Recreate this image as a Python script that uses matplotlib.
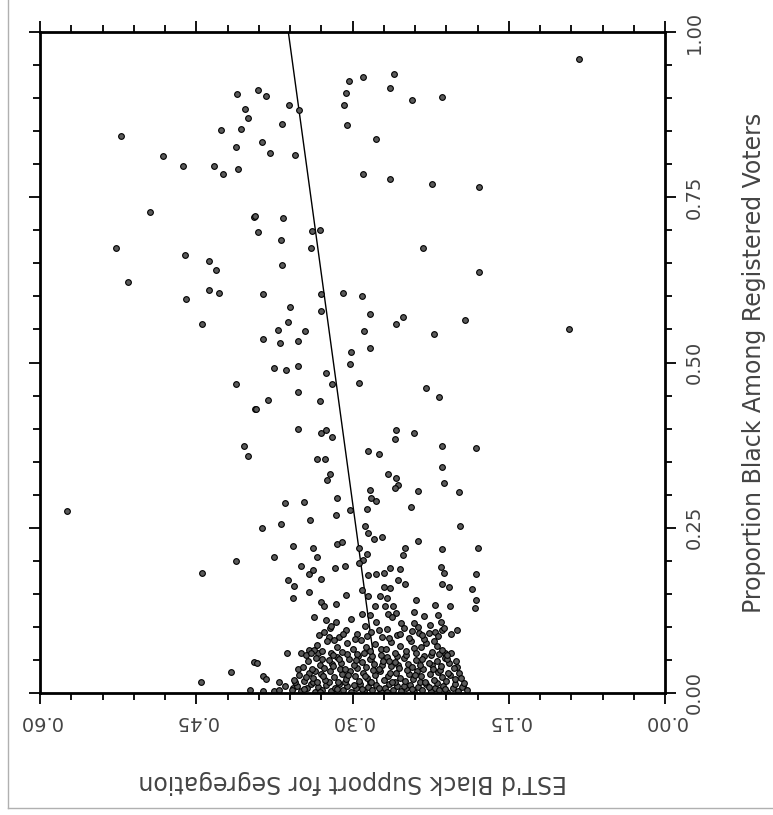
import matplotlib
matplotlib.use("Agg")
import matplotlib.pyplot as plt
from matplotlib.lines import Line2D
from matplotlib.ticker import MultipleLocator, FixedLocator
import numpy as np

# (support, proportion black) pairs, grouped by region
upper_left = [
    (0.411, 0.906), (0.403, 0.884), (0.400, 0.870), (0.426, 0.852), (0.407, 0.854),
    (0.522, 0.842), (0.412, 0.826), (0.482, 0.813), (0.463, 0.797), (0.433, 0.798),
    (0.424, 0.785), (0.410, 0.792), (0.395, 0.720), (0.494, 0.727), (0.527, 0.673),
    (0.461, 0.663), (0.438, 0.653), (0.431, 0.640), (0.516, 0.622), (0.438, 0.609),
    (0.428, 0.605), (0.460, 0.596), (0.444, 0.558), (0.412, 0.468), (0.394, 0.430),
    (0.404, 0.374), (0.400, 0.359),
]
lower_left = [
    (0.574, 0.275), (0.444, 0.182), (0.412, 0.199), (0.417, 0.032), (0.445, 0.016),
    (0.398, 0.005), (0.395, 0.047),
]
upper_mid = [
    (0.391, 0.912), (0.383, 0.903), (0.361, 0.890), (0.351, 0.882), (0.368, 0.861),
    (0.387, 0.834), (0.379, 0.817), (0.355, 0.814), (0.303, 0.926), (0.290, 0.932),
    (0.260, 0.936), (0.264, 0.915), (0.306, 0.907), (0.308, 0.889), (0.243, 0.897),
    (0.214, 0.902), (0.305, 0.860), (0.277, 0.838), (0.290, 0.785), (0.264, 0.778),
    (0.224, 0.770), (0.394, 0.721), (0.367, 0.718), (0.391, 0.698), (0.369, 0.685),
    (0.339, 0.699), (0.331, 0.700), (0.340, 0.673), (0.232, 0.673), (0.368, 0.648),
    (0.386, 0.603), (0.330, 0.603), (0.309, 0.605), (0.291, 0.600), (0.360, 0.584),
    (0.330, 0.578), (0.283, 0.573), (0.362, 0.561), (0.346, 0.548), (0.372, 0.549),
    (0.386, 0.535), (0.370, 0.530), (0.352, 0.533), (0.258, 0.559), (0.252, 0.569),
    (0.289, 0.548), (0.222, 0.543), (0.192, 0.565), (0.301, 0.516), (0.283, 0.522),
    (0.302, 0.498), (0.375, 0.491), (0.364, 0.488), (0.352, 0.494), (0.325, 0.484),
    (0.320, 0.467), (0.294, 0.469), (0.352, 0.455), (0.381, 0.444), (0.393, 0.430),
    (0.331, 0.442), (0.229, 0.461), (0.217, 0.448), (0.352, 0.399), (0.330, 0.394),
    (0.325, 0.398), (0.320, 0.388), (0.258, 0.398), (0.259, 0.385), (0.241, 0.393),
    (0.214, 0.374), (0.214, 0.342), (0.334, 0.354), (0.326, 0.354), (0.285, 0.366),
    (0.275, 0.362),
]
right_side = [
    (0.083, 0.959), (0.179, 0.766), (0.179, 0.637), (0.092, 0.550), (0.181, 0.371),
    (0.180, 0.220), (0.181, 0.180), (0.181, 0.140), (0.182, 0.128),
]
lower_mid = [
    (0.322, 0.332), (0.324, 0.322), (0.315, 0.295), (0.302, 0.277), (0.365, 0.288),
    (0.347, 0.289), (0.341, 0.262), (0.369, 0.256), (0.387, 0.250), (0.316, 0.269),
    (0.357, 0.223), (0.338, 0.219), (0.334, 0.206), (0.375, 0.206), (0.315, 0.226),
    (0.310, 0.229), (0.317, 0.189), (0.307, 0.192), (0.349, 0.192), (0.342, 0.180),
    (0.338, 0.186), (0.362, 0.171), (0.356, 0.162), (0.330, 0.172), (0.342, 0.153),
    (0.357, 0.143), (0.330, 0.138), (0.327, 0.131), (0.316, 0.135), (0.306, 0.148),
    (0.337, 0.115), (0.325, 0.111), (0.316, 0.108), (0.322, 0.098), (0.323, 0.085),
    (0.363, 0.061), (0.349, 0.061), (0.342, 0.065), (0.333, 0.061), (0.392, 0.045),
    (0.386, 0.025), (0.383, 0.021), (0.371, 0.017), (0.365, 0.010), (0.357, 0.008),
    (0.386, 0.003), (0.375, 0.003), (0.371, 0.004),
]
lower_right = [
    (0.266, 0.332), (0.258, 0.325), (0.256, 0.315), (0.259, 0.310), (0.212, 0.317),
    (0.237, 0.305), (0.198, 0.304), (0.283, 0.307), (0.282, 0.295), (0.277, 0.290),
    (0.286, 0.279), (0.244, 0.282), (0.197, 0.252), (0.288, 0.252), (0.285, 0.242),
    (0.279, 0.233), (0.272, 0.236), (0.237, 0.230), (0.214, 0.218), (0.250, 0.220),
    (0.252, 0.209), (0.286, 0.211), (0.294, 0.219), (0.290, 0.201), (0.294, 0.196),
    (0.264, 0.189), (0.254, 0.187), (0.215, 0.190), (0.212, 0.181), (0.285, 0.179),
    (0.277, 0.180), (0.270, 0.181), (0.256, 0.171), (0.250, 0.165), (0.214, 0.165),
    (0.207, 0.161), (0.270, 0.161), (0.264, 0.159), (0.291, 0.156), (0.185, 0.157),
    (0.285, 0.146), (0.274, 0.146), (0.267, 0.143), (0.239, 0.140), (0.221, 0.133),
    (0.206, 0.132), (0.278, 0.131), (0.269, 0.131), (0.261, 0.132), (0.241, 0.123),
    (0.231, 0.117), (0.218, 0.118), (0.283, 0.118), (0.266, 0.120), (0.258, 0.121),
    (0.253, 0.106), (0.237, 0.100), (0.227, 0.091), (0.221, 0.093), (0.214, 0.096),
    (0.205, 0.090), (0.200, 0.095), (0.205, 0.061), (0.194, 0.010), (0.211, 0.060),
]
# the dense mass of precincts near zero
cluster_bottom = [
    (0.358, 0.004), (0.353, 0.011), (0.349, 0.003), (0.344, 0.008), (0.340, 0.013),
    (0.336, 0.002), (0.333, 0.009), (0.329, 0.005), (0.325, 0.012), (0.321, 0.003),
    (0.317, 0.008), (0.313, 0.014), (0.309, 0.004), (0.305, 0.010), (0.301, 0.002),
    (0.297, 0.007), (0.293, 0.013), (0.289, 0.003), (0.285, 0.009), (0.281, 0.005),
    (0.277, 0.012), (0.273, 0.002), (0.269, 0.008), (0.265, 0.014), (0.261, 0.004),
    (0.257, 0.010), (0.253, 0.003), (0.249, 0.007), (0.245, 0.012), (0.241, 0.002),
    (0.237, 0.009), (0.233, 0.005), (0.229, 0.013), (0.225, 0.003), (0.221, 0.008),
    (0.217, 0.004), (0.213, 0.011), (0.209, 0.002), (0.204, 0.007), (0.199, 0.003),
    (0.195, 0.009), (0.190, 0.004),
    (0.355, 0.016), (0.347, 0.006), (0.338, 0.017), (0.331, 0.001), (0.323, 0.016),
    (0.315, 0.006), (0.307, 0.017), (0.299, 0.012), (0.291, 0.006), (0.283, 0.017),
    (0.275, 0.007), (0.267, 0.002), (0.259, 0.016), (0.251, 0.011), (0.243, 0.006),
    (0.235, 0.016), (0.227, 0.009), (0.219, 0.015), (0.211, 0.006), (0.202, 0.014),
    (0.193, 0.015),
]
cluster_low = [
    (0.356, 0.020), (0.351, 0.027), (0.347, 0.018), (0.342, 0.031), (0.338, 0.022),
    (0.334, 0.016), (0.330, 0.028), (0.326, 0.020), (0.322, 0.033), (0.318, 0.024),
    (0.314, 0.017), (0.310, 0.029), (0.306, 0.021), (0.302, 0.034), (0.298, 0.025),
    (0.294, 0.018), (0.290, 0.030), (0.286, 0.022), (0.282, 0.016), (0.278, 0.027),
    (0.274, 0.033), (0.270, 0.020), (0.266, 0.026), (0.262, 0.017), (0.258, 0.031),
    (0.254, 0.023), (0.250, 0.018), (0.246, 0.029), (0.242, 0.021), (0.238, 0.034),
    (0.234, 0.025), (0.230, 0.017), (0.226, 0.028), (0.222, 0.020), (0.218, 0.032),
    (0.214, 0.024), (0.210, 0.018), (0.206, 0.027), (0.202, 0.021), (0.198, 0.030),
    (0.352, 0.036), (0.345, 0.024), (0.336, 0.034), (0.328, 0.025), (0.320, 0.044),
    (0.312, 0.036), (0.304, 0.027), (0.296, 0.038), (0.288, 0.026), (0.280, 0.035),
    (0.272, 0.042), (0.264, 0.030), (0.256, 0.043), (0.248, 0.035), (0.240, 0.027),
    (0.232, 0.037), (0.224, 0.043), (0.216, 0.035), (0.208, 0.031), (0.200, 0.040),
    (0.196, 0.022),
]
cluster_mid = [
    (0.348, 0.040), (0.343, 0.048), (0.339, 0.037), (0.335, 0.053), (0.331, 0.043),
    (0.327, 0.038), (0.323, 0.050), (0.319, 0.041), (0.315, 0.055), (0.311, 0.046),
    (0.307, 0.037), (0.303, 0.051), (0.299, 0.042), (0.295, 0.056), (0.291, 0.047),
    (0.287, 0.039), (0.283, 0.052), (0.279, 0.044), (0.275, 0.036), (0.271, 0.049),
    (0.267, 0.055), (0.263, 0.041), (0.259, 0.047), (0.255, 0.038), (0.251, 0.053),
    (0.247, 0.044), (0.243, 0.039), (0.239, 0.050), (0.235, 0.042), (0.231, 0.056),
    (0.227, 0.046), (0.223, 0.037), (0.219, 0.049), (0.215, 0.041), (0.211, 0.053),
    (0.207, 0.045), (0.203, 0.038),
    (0.345, 0.057), (0.337, 0.065), (0.329, 0.052), (0.321, 0.061), (0.313, 0.051),
    (0.305, 0.059), (0.297, 0.050), (0.289, 0.061), (0.281, 0.056), (0.273, 0.066),
    (0.265, 0.049), (0.257, 0.056), (0.249, 0.058), (0.241, 0.068), (0.233, 0.052),
    (0.225, 0.057), (0.217, 0.059), (0.209, 0.051), (0.201, 0.048),
]
cluster_top = [
    (0.340, 0.060), (0.334, 0.072), (0.329, 0.064), (0.324, 0.078), (0.319, 0.058),
    (0.315, 0.069), (0.310, 0.062), (0.305, 0.075), (0.300, 0.066), (0.296, 0.059),
    (0.292, 0.080), (0.287, 0.070), (0.283, 0.063), (0.278, 0.074), (0.273, 0.058),
    (0.268, 0.067), (0.263, 0.077), (0.259, 0.061), (0.254, 0.071), (0.249, 0.064),
    (0.244, 0.079), (0.239, 0.060), (0.234, 0.069), (0.229, 0.075), (0.224, 0.062),
    (0.219, 0.071), (0.214, 0.065), (0.209, 0.058),
    (0.332, 0.088), (0.321, 0.102), (0.313, 0.085), (0.306, 0.096), (0.301, 0.112),
    (0.296, 0.089), (0.291, 0.120), (0.288, 0.101), (0.282, 0.092), (0.277, 0.108),
    (0.272, 0.084), (0.267, 0.097), (0.262, 0.115), (0.257, 0.088), (0.251, 0.099),
    (0.246, 0.083), (0.241, 0.106), (0.236, 0.091), (0.231, 0.081), (0.226, 0.103),
    (0.218, 0.086), (0.212, 0.098),
    (0.327, 0.093), (0.318, 0.080), (0.309, 0.089), (0.298, 0.081), (0.286, 0.086),
    (0.275, 0.096), (0.265, 0.083), (0.254, 0.090), (0.243, 0.094), (0.233, 0.087),
    (0.222, 0.079), (0.215, 0.107),
]

# fitted line endpoints
fit_black = [0.0, 1.0]
fit_support = [0.275, 0.3616]

x_ticks = [0.00, 0.15, 0.30, 0.45, 0.60]
x_tick_labels = ["0.00", "0.15", "0.30", "0.45", "0.60"]
y_ticks = [0.00, 0.25, 0.50, 0.75, 1.00]
y_tick_labels = ["0.00", "0.25", "0.50", "0.75", "1.00"]

groups = [upper_left, lower_left, upper_mid, right_side, lower_mid, lower_right,
          cluster_bottom, cluster_low, cluster_mid, cluster_top]
pts = np.array([p for g in groups for p in g])

fig = plt.figure(figsize=(7.73, 8.15), dpi=100)
ax = fig.add_axes([40 / 773, 1 - 693 / 815, 625 / 773, 661 / 815])

ax.plot(fit_support, fit_black, color="black", lw=1.0, zorder=1)
ax.scatter(pts[:, 0], pts[:, 1], s=17, facecolors="#5a5a5a", edgecolors="black",
           linewidths=0.8, zorder=2)

ax.set_xlim(0.6, 0.0)
ax.set_ylim(0.0, 1.0)

ax.xaxis.set_major_locator(FixedLocator(x_ticks))
ax.xaxis.set_minor_locator(MultipleLocator(0.03))
ax.yaxis.set_major_locator(FixedLocator(y_ticks))
ax.yaxis.set_minor_locator(MultipleLocator(0.05))
ax.set_xticklabels(x_tick_labels, rotation=180, fontsize=14, color="#444444")
ax.set_yticklabels(y_tick_labels, rotation=90, fontsize=14, color="#444444",
                   va="center")

ax.tick_params(which="both", direction="out", top=True, right=True,
               left=True, bottom=True, labelleft=False, labelright=True,
               labeltop=False, labelbottom=True, width=1.3)
ax.tick_params(which="major", length=8, pad=6)
ax.tick_params(which="minor", length=5)
for sp in ax.spines.values():
    sp.set_linewidth(2.0)

ax.yaxis.set_label_position("right")
ax.set_ylabel("Proportion Black Among Registered Voters", fontsize=17,
              color="#444444", rotation=90, labelpad=28)
ax.set_xlabel("EST'd Black Support for Segregation", fontsize=17,
              color="#444444", rotation=180, labelpad=28)

# thin grey frame of the original screenshot
fig.add_artist(Line2D([8 / 773, 8 / 773], [1.0, 1 - 808 / 815],
                      transform=fig.transFigure, color="#b0b0b0", lw=1.0))
fig.add_artist(Line2D([8 / 773, 1.0], [1 - 808 / 815, 1 - 808 / 815],
                      transform=fig.transFigure, color="#b0b0b0", lw=1.0))

fig.savefig("out.png", dpi=100)
